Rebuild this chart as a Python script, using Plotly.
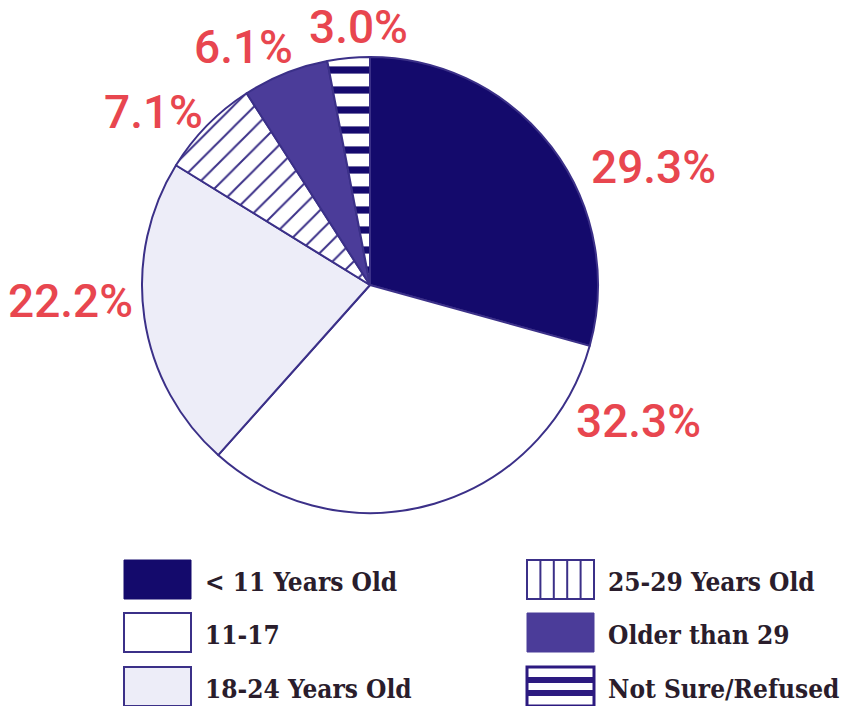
import plotly.graph_objects as go

# ---- data ----
labels = ["< 11 Years Old", "11-17", "18-24 Years Old",
          "25-29 Years Old", "Older than 29", "Not Sure/Refused"]
values = [29.3, 32.3, 22.2, 7.1, 6.1, 3.0]

# ---- styles ----
W, H = 856, 706
NAVY = "#150a6e"
PURPLE = "#4b3c99"
LAV = "#ededf8"
EDGE = "#3b3088"
RED = "#e8464f"
TXT = "#2a1d2c"

slice_colors = ["#140a6c", "#ffffff", LAV, "#ffffff", PURPLE, "#ffffff"]
pat_shape = ["", "", "", "/", "", "-"]
pat_fg = [NAVY, NAVY, NAVY, EDGE, NAVY, NAVY]
pat_size = [10, 10, 10, 15, 10, 20]
pat_sol = [0.3, 0.3, 0.3, 0.13, 0.3, 0.36]

# pie geometry in pixels
cx, cy, r = 370, 285, 228

fig = go.Figure(go.Pie(
    labels=labels, values=values, sort=False, direction="clockwise",
    rotation=0, textinfo="none", hoverinfo="label+percent",
    showlegend=False,
    marker=dict(colors=slice_colors,
                line=dict(color=EDGE, width=2),
                pattern=dict(shape=pat_shape, fgcolor=pat_fg, bgcolor=slice_colors,
                             size=pat_size, solidity=pat_sol, fillmode="replace")),
    domain=dict(x=[(cx - r) / W, (cx + r) / W], y=[1 - (cy + r) / H, 1 - (cy - r) / H]),
))

# percentage labels (positions in pixels)
label_pos = [(653, 167), (638, 421), (70, 301), (153, 112), (243, 47), (358, 27)]
annotations = []
for v, (px, py) in zip(values, label_pos):
    annotations.append(dict(
        x=px / W, y=1 - py / H, xref="paper", yref="paper", showarrow=False,
        text=f"{v:.1f}%", xanchor="center", yanchor="middle",
        font=dict(family="Roboto, DejaVu Sans Condensed, sans-serif", size=46,
                  weight=500, color=RED)))

# legend (manual, 2 columns x 3 rows)
shapes = []
col_x = [124, 527]
row_y = [560, 613, 667]
bw, bh = 67, 39


def rect(a0, b0, a1, b1, fill, lw=2, lc=EDGE):
    return dict(type="rect", xref="paper", yref="paper",
                x0=a0 / W, x1=a1 / W, y0=1 - b1 / H, y1=1 - b0 / H,
                fillcolor=fill, line=dict(color=lc, width=lw), layer="above")


for i, lab in enumerate(labels):
    c, rr = i // 3, i % 3
    x0, y0 = col_x[c], row_y[rr]
    x1, y1 = x0 + bw, y0 + bh

    if i == 0:
        shapes.append(rect(x0, y0, x1, y1, slice_colors[0], 1, slice_colors[0]))
    elif i == 4:
        shapes.append(rect(x0, y0, x1, y1, PURPLE, 1, PURPLE))
    elif i == 5:
        shapes.append(rect(x0, y0, x1, y1, "#ffffff", 3, "#2c1a80"))
        for k in (1, 2):
            yy = y0 + k * bh / 3
            shapes.append(rect(x0, yy - 3, x1, yy + 3, "#2c1a80", 0, "#2c1a80"))
    else:
        shapes.append(rect(x0, y0, x1, y1, slice_colors[i], 2, EDGE))
        if i == 3:
            for k in range(1, 5):
                xx = x0 + k * bw / 5
                shapes.append(dict(type="line", xref="paper", yref="paper",
                                   x0=xx / W, x1=xx / W, y0=1 - y1 / H, y1=1 - y0 / H,
                                   line=dict(color=EDGE, width=2), layer="above"))
    annotations.append(dict(
        x=(x1 + 12) / W, y=1 - (y0 + bh / 2 + 2) / H, xref="paper", yref="paper",
        showarrow=False, text=f"<b>{lab}</b>", xanchor="left", yanchor="middle",
        font=dict(family="DejaVu Serif Condensed, DejaVu Serif", size=26, color=TXT)))

fig.update_layout(
    width=W, height=H, margin=dict(l=0, r=0, t=0, b=0),
    paper_bgcolor="#ffffff", plot_bgcolor="#ffffff",
    annotations=annotations, shapes=shapes,
)
fig.write_html("out.html", config={"displayModeBar": False},
               post_script="document.body.style.margin='0';document.body.style.overflow='hidden';")
